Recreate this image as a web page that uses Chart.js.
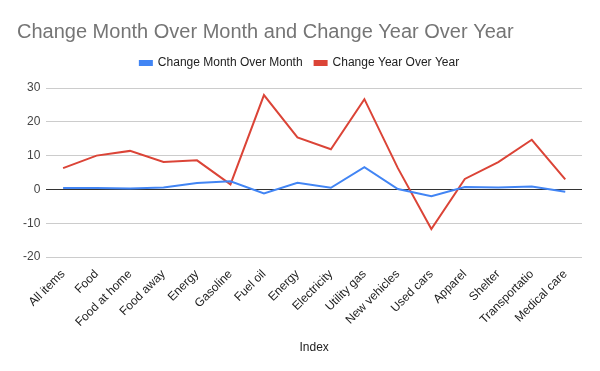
<!DOCTYPE html>
<html>
<head>
<meta charset="utf-8">
<script src="https://cdn.jsdelivr.net/npm/chart.js@4/dist/chart.umd.min.js"></script>
<style>
  body { margin: 0; background: #fff; }
  #wrap { width: 600px; height: 371px; }
</style>
</head>
<body>
<div id="wrap"><canvas id="lineChart"></canvas></div>
<script>
var categories = ['All items', 'Food', 'Food at home', 'Food away', 'Energy', 'Gasoline', 'Fuel oil', 'Energy',
    'Electricity', 'Utility gas', 'New vehicles', 'Used cars', 'Apparel', 'Shelter', 'Transportatio', 'Medical care'];
var monthOverMonth = [0.4, 0.4, 0.3, 0.6, 1.9, 2.4, -1.2, 2.0, 0.5, 6.6, 0.1, -2.0, 0.7, 0.6, 0.9, -0.7];
var yearOverYear = [6.3, 10.0, 11.4, 8.1, 8.6, 1.5, 27.9, 15.4, 11.9, 26.7, 6.3, -11.7, 3.1, 8.1, 14.7, 3.0];
var yTicks = [-20, -10, 0, 10, 20, 30];

var font = "'Liberation Sans', Arial, sans-serif";

// extra space under the legend, before the plot area
var legendGap = {
    id: 'legendGap',
    beforeInit: function(chart) {
        var fit = chart.legend.fit;
        chart.legend.fit = function() {
            fit.call(this);
            this.height += 9;
        };
    }
};

var ctx = document.getElementById('lineChart').getContext('2d');
var lineChart = new Chart(ctx, {
    type: 'line',
    data: {
        labels: categories,
        datasets: [
            {
                label: 'Change Month Over Month',
                data: monthOverMonth,
                borderColor: '#4285f4',
                backgroundColor: '#4285f4',
                borderWidth: 2,
                pointRadius: 0,
                tension: 0
            },
            {
                label: 'Change Year Over Year',
                data: yearOverYear,
                borderColor: '#db4437',
                backgroundColor: '#db4437',
                borderWidth: 2,
                pointRadius: 0,
                tension: 0
            }
        ]
    },
    plugins: [legendGap],
    options: {
        responsive: true,
        maintainAspectRatio: false,
        animation: false,
        layout: { padding: { left: 17, right: 18, top: 12, bottom: 12 } },
        plugins: {
            title: {
                display: true,
                text: 'Change Month Over Month and Change Year Over Year',
                align: 'start',
                color: '#757575',
                font: { family: font, size: 20, weight: 'normal' },
                padding: { top: 8, bottom: 1 }
            },
            legend: {
                labels: {
                    boxWidth: 12,
                    boxHeight: 4,
                    color: '#222',
                    font: { family: font, size: 12 },
                    padding: 12
                }
            },
            tooltip: { enabled: false }
        },
        scales: {
            x: {
                offset: true,
                grid: { display: false },
                border: { display: false },
                ticks: {
                    color: '#222',
                    font: { family: font, size: 12 },
                    minRotation: 45,
                    maxRotation: 45,
                    autoSkip: false,
                    padding: 2
                },
                title: {
                    display: true,
                    text: 'Index',
                    color: '#222',
                    font: { family: font, size: 12 },
                    padding: { top: 9 }
                }
            },
            y: {
                min: -20,
                max: 30,
                afterBuildTicks: function(axis) {
                    axis.ticks = yTicks.map(function(v) { return { value: v }; });
                },
                border: { display: false },
                grid: {
                    drawTicks: false,
                    color: function(c) { return c.tick && c.tick.value === 0 ? '#333' : '#ccc'; }
                },
                ticks: {
                    color: '#444',
                    font: { family: font, size: 12 },
                    padding: 6
                }
            }
        }
    }
});
</script>
</body>
</html>
